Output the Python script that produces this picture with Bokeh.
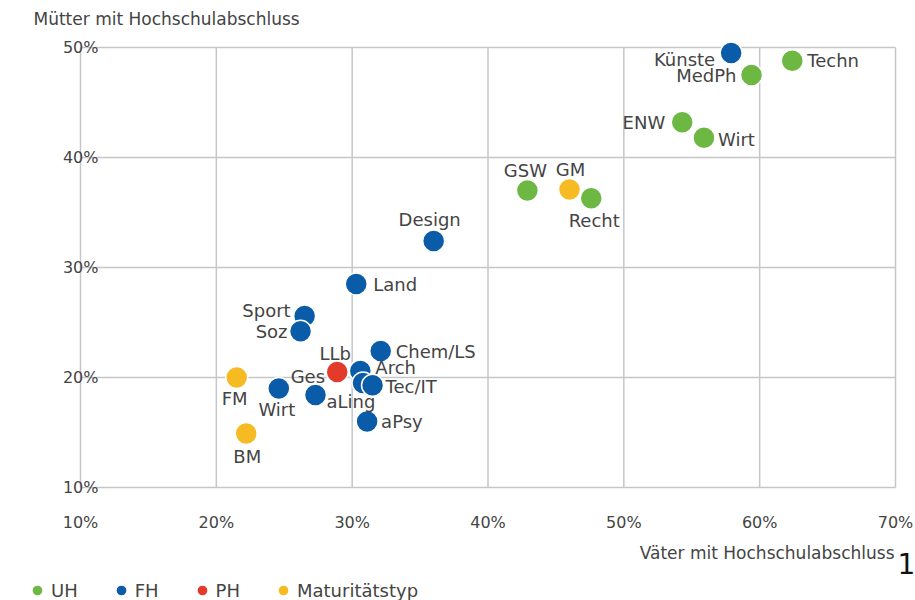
from bokeh.plotting import figure
from bokeh.models import ColumnDataSource, Range1d, FixedTicker, Label, Legend, LegendItem
from bokeh.core.properties import value
from bokeh.embed import file_html
from bokeh.resources import INLINE

# ---- data ----
names = ["FM", "BM", "GM",
         "Techn", "MedPh", "ENW", "Wirt", "GSW", "Recht",
         "Künste", "Design", "Land", "Sport", "Soz", "Chem/LS", "Arch", "Ges", "Tec/IT", "aLing", "Wirt", "aPsy",
         "LLb"]
groups = ["Maturitätstyp"] * 3 + ["UH"] * 6 + ["FH"] * 12 + ["PH"]
vater = [21.5, 22.2, 46.0,
         62.4, 59.4, 54.3, 55.9, 42.9, 47.6,
         57.9, 36.0, 30.3, 26.5, 26.2, 32.1, 30.6, 30.8, 31.5, 27.3, 24.6, 31.1,
         28.9]
mutter = [20.0, 14.9, 37.1,
          48.8, 47.5, 43.2, 41.8, 37.0, 36.3,
          49.5, 32.4, 28.5, 25.6, 24.2, 22.4, 20.6, 19.5, 19.3, 18.4, 19.0, 16.0,
          20.5]
legend_groups = ["UH", "FH", "PH", "Maturitätstyp"]
x_ticks = [10, 20, 30, 40, 50, 60, 70]
x_tick_labels = ["10%", "20%", "30%", "40%", "50%", "60%", "70%"]
y_ticks = [10, 20, 30, 40, 50]
y_tick_labels = ["10%", "20%", "30%", "40%", "50%"]
x_title = "Väter mit Hochschulabschluss"
y_title = "Mütter mit Hochschulabschluss"
note = "1"

# ---- styles ----
palette = {"UH": "#6cb842", "FH": "#0a5ca8", "PH": "#e33b2b", "Maturitätstyp": "#f6ba22"}
# label placement per point: (dx px, dy px down, align)
label_pos = [(-2, 21, "center"), (1, 23, "center"), (1, -20, "center"),
             (15, 0, "left"), (-15, 0, "right"), (-17, 0, "right"), (14, 2, "left"), (-2, -20, "center"), (3, 22, "center"),
             (-16, 6, "right"), (-4, -22, "center"), (17, 0, "left"), (-14, -5, "right"), (-13, 0, "right"),
             (15, 0, "left"), (15, -3, "left"), (-38, -7, "right"), (13, 1, "left"), (11, 6, "left"),
             (-2, 21, "center"), (14, 0, "left"),
             (-2, -19, "center")]

FONT = "DejaVu Sans"
TXT = "#444444"
GRID = "#c6c6c6"

W, H = 915, 600
# plot box in canvas pixels: x 80..895 (10%..70%), y 47..487 (50%..10%)
XL, XR, YT, YB = 80, 895, 47, 487
xmin, xmax, ymin, ymax = x_ticks[0], x_ticks[-1], y_ticks[0], y_ticks[-1]
sx = (XR - XL) / (xmax - xmin)
sy = (YB - YT) / (ymax - ymin)

def dx_(px):
    return xmin + (px - XL) / sx

def dy_(py):
    return ymin + (YB - py) / sy

p = figure(width=W, height=H, output_backend="svg", toolbar_location=None,
           x_range=Range1d(dx_(0), dx_(W)), y_range=Range1d(dy_(H), dy_(0)),
           min_border=0)
p.outline_line_color = None
p.background_fill_color = "white"
p.border_fill_color = "white"
p.grid.visible = False

for ax in (p.xaxis[0], p.yaxis[0]):
    ax.axis_line_color = None
    ax.major_tick_line_color = None
    ax.minor_tick_line_color = None
    ax.major_label_text_font = FONT
    ax.major_label_text_font_size = "16px"
    ax.major_label_text_color = TXT
p.xaxis[0].ticker = FixedTicker(ticks=x_ticks)
p.yaxis[0].ticker = FixedTicker(ticks=y_ticks)
p.xaxis[0].major_label_overrides = {t: l for t, l in zip(x_ticks, x_tick_labels)}
p.yaxis[0].major_label_overrides = {t: l for t, l in zip(y_ticks, y_tick_labels)}
p.xaxis[0].fixed_location = ymin
p.yaxis[0].fixed_location = xmin
p.xaxis[0].major_label_standoff = 19
p.yaxis[0].major_label_standoff = -24

# grid lines + box, spanning only the plot box
p.segment(x0=x_ticks, y0=[ymin] * len(x_ticks), x1=x_ticks, y1=[ymax] * len(x_ticks),
          line_color=GRID, line_width=1.5)
p.segment(x0=[xmin] * len(y_ticks), y0=y_ticks, x1=[xmax] * len(y_ticks), y1=y_ticks,
          line_color=GRID, line_width=1.5)

src = ColumnDataSource(dict(
    x=vater, y=mutter, name=names,
    color=[palette[g] for g in groups],
    dx=[l[0] for l in label_pos], dy=[l[1] for l in label_pos], align=[l[2] for l in label_pos],
))
r = p.scatter("x", "y", source=src, size=22, fill_color="color", line_color="white", line_width=1.5)
p.text("x", "y", text="name", source=src, x_offset="dx", y_offset="dy", text_align="align",
       text_baseline="middle", text_font=value(FONT), text_font_size="18px", text_color=TXT)

p.add_layout(Label(x=dx_(33), y=dy_(18), text=y_title, text_align="left", text_baseline="middle",
                   text_font=FONT, text_font_size="17px", text_color=TXT))
p.add_layout(Label(x=dx_(894), y=dy_(552), text=x_title, text_align="right", text_baseline="middle",
                   text_font=FONT, text_font_size="17px", text_color=TXT))
p.add_layout(Label(x=dx_(906), y=dy_(563), text=note, text_align="center", text_baseline="middle",
                   text_font=FONT, text_font_size="28px", text_color="#111111"))

items = [LegendItem(label=g, renderers=[r], index=groups.index(g)) for g in legend_groups]
legend = Legend(items=items, location=(23, H - 590 - 14), orientation="horizontal",
                border_line_color=None, background_fill_alpha=0, padding=0, margin=0,
                spacing=29, label_standoff=0, glyph_width=28, glyph_height=28,
                label_text_font=FONT, label_text_font_size="18px", label_text_color=TXT)
p.add_layout(legend)

open("out.html", "w").write(file_html(p, INLINE))
